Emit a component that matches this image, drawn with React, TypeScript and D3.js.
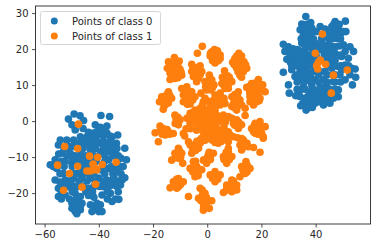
import React from "react";
import * as d3 from "d3";

const xTicks = [-60, -40, -20, 0, 20, 40];
const yTicks = [-20, -10, 0, 10, 20, 30];
const seriesNames = ["Points of class 0", "Points of class 1"];
const seriesColors = ["#1f77b4", "#ff7f0e"];

type P = [number, number];

const class0Left: P[] = [
  [-49.3,2.1],[-47.1,1.6],[-51.4,.7],[-45.8,.3],[-50.1,-.9],[-46,-1.9],[-48.9,-2.3],[-39.4,1.7],[-36.2,1.4],[-41.5,-.9],[-39.6,-1.6],[-37.2,-1.2],[-40.9,-2.8],[-37.8,-2.8],[-33.2,-3.7],[-43.3,-4.2],[-35.3,-4.2],
  [-54.4,-5.1],[-52,-5.1],[-49.5,-5.1],[-47,-4.2],[-44.6,-4.2],[-42.1,-3.2],[-39.6,-3.2],[-37.2,-3.2],[-33.7,-6],[-30.6,-7.4],
  [-55.1,-6.5],[-50.1,-6.9],[-45.2,-6.5],[-42.7,-6],[-40.2,-6],[-37.8,-6],[-35.3,-6.9],
  [-53.8,-8.8],[-50.7,-8.8],[-47,-8.8],[-43.3,-7.9],[-39.6,-8.3],[-36.5,-8.3],[-34.1,-8.8],[-32,-10.2],[-30,-10.6],
  [-56.3,-10.6],[-58.1,-12],[-55.7,-13],[-52.6,-11.1],[-50.1,-11.6],[-45.8,-11.1],[-36.5,-10.6],[-34.1,-13],[-31.2,-12.5],
  [-56.3,-16.2],[-53.2,-14.4],[-48.3,-14.4],[-45.8,-13.4],[-39.6,-13.4],[-36.5,-13],[-30.6,-15.6],[-33.5,-13.9],
  [-52.6,-16.2],[-49.5,-15.7],[-46.4,-15.7],[-43.3,-15.7],[-40.2,-15.7],[-37.2,-16.2],[-34.7,-15.3],[-31.6,-16.2],
  [-55.1,-18.5],[-51.4,-18.1],[-48.3,-18.1],[-44,-18.5],[-38.4,-18.1],[-35.3,-17.6],[-32.2,-17.6],
  [-55.1,-20.8],[-52.6,-20.4],[-48.9,-19.9],[-47,-20.8],[-39,-20.4],[-35.9,-19.9],[-32.8,-21.6],[-35.3,-22.2],
  [-50.1,-22.7],[-48.3,-23.1],[-46.4,-22.7],[-48.9,-25],[-47,-24.5],[-50.1,-24.1],[-48.3,-25.6],[-43.3,-23.1],[-40.9,-22.7],[-39.6,-23.1],[-42.7,-25],[-40.2,-25],[-41.5,-23.6],[-39,-25],
];

const class0LeftFill: P[] = [
  [-41,-4],[-38.5,-4],[-36,-4],
  [-46,-5.5],[-43,-5.5],[-41,-5.5],[-38.5,-5.5],[-36,-5.5],
  [-53,-7.5],[-51.5,-7.5],[-46,-7.5],[-41.5,-7.5],[-38.5,-7.5],[-36,-7.5],[-33.5,-7.5],
  [-52,-9.5],[-49,-9.5],[-45,-9.5],[-42,-9.5],[-38,-9.5],[-35,-9.5],[-33,-9.5],
  [-54,-11],[-48,-11],[-43.5,-11],[-41,-11],[-38,-11],[-33.5,-11],
  [-57,-12.5],[-53,-12.5],[-50,-12.5],[-47,-12.5],[-43,-12.5],[-38.5,-12.5],[-35.5,-12.5],[-32.5,-12.5],
  [-54.5,-14.5],[-49.5,-14.5],[-46,-14.5],[-42,-14.5],[-38,-14.5],[-35,-14.5],[-32,-14.5],
  [-50.5,-16.5],[-47.5,-16.5],[-44.5,-16.5],[-41.5,-16.5],[-38.5,-16.5],[-35.5,-16.5],[-33,-16.5],
  [-53,-18],[-49.5,-18],[-46,-18],[-42,-18],[-40,-18],[-36.5,-18],[-33.5,-18],
  [-54,-19.5],[-50,-19.5],[-45,-19.5],[-42.5,-19.5],[-37,-19.5],[-33,-19.5],
  [-54,-21.5],[-51,-21.5],[-48.5,-21.5],[-37,-21.5],[-34,-21.5],
  [-49,-23.5],[-47,-23.5],[-42,-24],[-40.5,-24],
  [-44,-3],[-44,-6],[-48,-6],[-52,-6.5],[-47,-10],[-50,-10.5],[-55,-9],[-45,-12.5],[-44,-14.5],[-47,-14.5],[-51,-16.5],[-54.5,-16.8],[-44,-20.5],[-42,-21],
];

const class0Right: P[] = [
  [36.2,29.2],[34.7,27.1],[38,27.5],[34.1,25.5],[35.9,26],[38.4,26],[35.3,24.1],[37.8,24.1],[41.5,26.4],[43.3,25.7],[40.2,25],[47,27.8],[50.8,27.9],[45.8,26.4],[48.2,26.4],[51,25],[46.4,24.5],[49.1,24.5],[44.5,23.1],[47.6,23.1],
  [27.9,21.5],[29.8,20.8],[28.5,19.5],[30.4,18.5],[29.2,17.3],[31.6,18.1],[32.2,16.2],[27.9,13.7],[31,14.4],[29.8,10.2],[30.1,7.9],[32.5,7.2],[34.3,4.4],[36.3,3.2],[38.6,3.9],[42.7,4.6],
  [34.7,21.8],[37.1,22.2],[39.6,21.8],[42.1,21.8],[44.5,21.3],[47,20.8],[33.5,19.9],[35.9,19.9],[38.4,20.4],[42.1,19.9],[44.5,19.5],[47,19],[34.1,18.1],[36.5,18.1],[38.4,17.6],[44.5,17.6],[47,17.1],[33.5,16.2],[35.9,16.2],[38.4,15.7],[43.3,13.9],[45.8,14.8],[48.2,15.3],[34.1,14.4],[36.5,14.4],[39,13.9],[41.5,13.9],[32.2,12.5],[34.7,12],[37.1,12],[39.6,11.6],[42.7,11.6],[48.8,13],[46.4,11.1],[35.3,9.7],[38.4,10.2],[41.5,9.7],[43.9,10.2],[34.1,8.8],[37.8,8.3],[40.8,7.9],[43.3,8.3],[48.2,8.8],[35.9,6.5],[38.4,6.5],[41.5,6.9],[46.4,6.5],[48.2,6.9],[37.1,5.1],[39.6,5.1],[45.1,5.1],
  [50.1,21.3],[52.5,20.8],[50.7,19.5],[53.8,19.5],[49.4,18.1],[51.9,17.6],[50.7,15.7],[53.1,14.8],[49.4,14.4],[54.4,14.6],[52.5,13],[54.6,12.3],[50.7,11.6],[53.4,10.2],[47,13],
];

const class0RightFill: P[] = [
  [36.5,25],[39,25],[44.5,25],[47.5,25],[50,25],
  [36.5,27],[46.5,27],[48.5,27],
  [34.5,23],[36.5,23],[39,23],[42,23],[46,23],[49,23],
  [36,21],[38,21],[40.5,21],[43,21],[45.5,21],[48.5,21],
  [33,20],[40,20],[46,20],
  [32.5,18.5],[35,18.5],[37.5,18.5],[40,18.5],[43,18.5],[45.5,18.5],[49,18.5],
  [31,17],[33,17],[35,17],[37,17],[39,17],[44,17],[46,17],
  [31,15.5],[33,15.5],[35,15.5],[37,15.5],[45,15.5],[47,15.5],[49,15.5],[52,15.5],
  [33,13],[35.5,13],[38,13],[41,13],[44,13],[46,13],
  [33,11],[35.5,11],[38,11],[41,11],[44,11],[47,11],[49,11],
  [33,9],[36,9],[39,9],[42,9],[45,9],[47,9],
  [34,7],[37,7],[39.5,7],[43,7],[45,7],[47,7],
  [35,5],[38,5],[41,5.5],
  [30.5,20],[31.5,20.2],[32,19],[30.5,16.5],[42,6],[44,6],[37,3.8],
];

const class1Left: P[] = [
  [-47.7,-.7],[-52.8,-6.9],[-48,-7.5],[-55.4,-12.1],[-48,-12.4],[-51,-14.4],[-43.6,-9.6],[-40.6,-9.9],[-38.9,-11.9],[-33.8,-11.3],[-42.3,-11.8],[-41.5,-13],[-43.3,-13.7],[-44.6,-13.7],[-40.9,-13.4],[-42.1,-13.4],[-46.4,-18.2],[-41.4,-17.4],[-53.2,-19.1],
];

const class1Right: P[] = [
  [42.3,24.3],[39.7,19],[41.5,17.1],[40.8,16.4],[43.5,15.9],[40.2,15.5],[40.6,14.6],[46.4,12.9],[51.5,14.3],[45.6,7.9],
];

const class1Center: P[] = [
  [-2,20.9],[-3.8,19],
  [1.5,19.4],[3.6,19.7],[4.6,18.5],[3.9,16.9],[1.8,16.9],[.9,18.2],[2.7,18.2],
  [10.7,18.2],[12.5,18.2],[9.2,16.5],[11.3,16.6],[13.4,16.6],[14.4,14.8],[10.7,14.8],[12.5,14.8],[11.9,12.9],[13.2,13.9],
  [-12.3,17.8],[-14.5,16.6],[-10.5,16.8],[-12.1,16.2],[-14.9,14.8],[-12.7,14.5],[-10.2,14.5],[-13.9,13.4],[-11.4,12.9],[-9.6,12.9],[-13.9,11.7],[-12.1,12],
  [-5.9,15.9],[-2.8,15.5],[-5.9,13.9],[-3.8,13.9],[-2.2,13.9],[-5.3,12.5],[-3.4,12],[-4.1,11.1],
  [.6,12.9],[-1,11.1],[1.5,11.6],[.2,10.2],[2.3,10.2],[-.4,8.8],[1.1,8.8],
  [6.2,14.1],[5.4,12.3],[8,12.3],[5.2,10.6],[7,10.6],[8.9,11.1],[6.4,9.2],[7.6,9.2],
  [18.7,11.7],[14.4,9.5],[16.2,10.6],[18.1,9.7],[20.3,10.2],[21.2,8.3],[16.2,8.8],[18.7,8.3],[15.6,6.9],[17.5,6.9],[19.3,6.5],[16.9,4.6],[18.1,5.5],[15.6,5.5],
  [-14.5,8.3],[-17,6.9],[-13.3,6.5],[-15.1,6],[-17.8,5.5],[-15.7,4.6],[-16.4,3.4],
  [-9.6,9.2],[-7.7,9.7],[-5.9,8.3],[-9,7.4],[-7.1,6.9],[-4.7,6.9],[-9,5.5],[-6.5,4.9],[-7.7,5.5],
  [2.7,7.4],[4.6,7.9],[5.8,5.9],[3.9,5.5],[2.1,5.9],[6.4,5],[4.6,4.6],
  [11.3,8.3],[8.9,6.9],[11.9,6],[10.1,5],[12.5,4.6],[8.9,4.2],[10.7,3.2],[13.8,3.7],[13.8,1.7],
  [-2.5,7.9],[-1.6,5.5],[.9,4.6],[-2.8,3.7],[-.4,3.2],[2.7,3.2],[-4.7,3.2],[-1,1.8],[1.5,1.4],[3.3,1.8],[-6.5,2.3],[-7.7,.9],[-5.3,0],[-3.4,.9],[-1,0],[1.5,-.9],[-4.1,-2.3],
  [-11.7,.9],[-12.1,1.8],[-10.2,.5],[-10.8,-.9],
  [5.8,1.8],[4.6,.9],[7.6,1.4],[5.8,0],
  [10.7,.5],[9.5,-.5],[12.5,-.9],[11.3,-1.9],[8.9,.9],
  [18.1,-1.4],[16.2,-1.9],[19.3,0],[21.2,-1.4],[17.5,-3.2],[19.9,-3.2],[20.5,-4.2],
  [-17.6,-1.2],[-19.4,-3.1],[-16.4,-1.9],[-14.5,-2.8],[-12.7,-3.3],[-15.7,-3.7],[-18.2,-5.6],
  [-11.4,-.5],[-6.5,-.5],[-9,-3.3],[-4.1,-2.3],[-1.6,-.9],[1.5,-.5],[10.7,-.9],[16.9,-2.8],[20.5,-4.6],[19.3,-8.5],
  [-1.6,-4.2],[1.5,-2.8],[3.9,-3.7],[7,-3.3],[9.5,-4.2],[12.5,-4.7],[-2.8,-5.1],
  [-.4,-3.7],[-2.2,-4.6],[2.1,-3.3],[4.6,-2.3],[1.5,-5.1],[3.9,-6],[7.6,-2.8],[5.8,-4.2],[7.6,-5.6],[-7.1,-5.6],[-5.3,-6.5],[-3.4,-7.4],[-5.9,-8.8],[-2.8,-6],
  [-10.8,-7.4],[-12.1,-8.8],[-9.6,-8.8],[-13.3,-10.7],[-10.8,-10.2],[-9.2,-11.6],
  [.2,-9.3],[-1.6,-10.7],[2.1,-8.8],[-.4,-11.6],
  [7.6,-8.4],[5.8,-9.7],[8.9,-9.7],[7,-11.6],[7.6,-7.4],
  [13.2,-5.1],[11.9,-6.5],[15,-7],[12.5,-7.9],[16.9,-7.2],
  [-5.3,-11.1],[-6.5,-13],[-4.1,-13.9],[-2.2,-13.4],[-4.7,-15.3],
  [2.7,-13.9],[.9,-14.8],[4.6,-14.8],[2.7,-16.7],
  [14.1,-11.1],[12.5,-12.5],[15.6,-13],[13.8,-14.4],[11.9,-15.3],
  [-10.8,-15.8],[-12.7,-16.7],[-9,-16.7],[-10.8,-18.1],[-13.9,-18.4],[-11.4,-18.5],
  [-7.1,-20.8],
  [8.9,-16.2],[7,-17.6],[10.7,-17.6],[5.8,-19.7],[8.9,-19.5],[10.7,-19],
  [-2.8,-18.5],[-1,-19.9],[-3.4,-21.3],[-1.6,-22.2],[1.5,-22],[-1.6,-24.6],[.6,-24.1],
];

const class1CenterFill: P[] = [
  [2.5,20],[1,19],[4.6,17.5],[2.7,16.3],[3,17.5],[1.5,18],
  [11.5,19],[10,17.5],[12,17.5],[12,16],[14,15.8],[9.8,15.8],[11.5,15],[13.2,15],[11.2,13.8],[12.5,12.3],
  [-13.5,16],[-11,15.5],[-13.5,15],[-11.5,13.7],[-12.8,12.7],[-11,12.2],[-9.8,13.7],
  [-5,15],[-4,15],[-3,14.8],[-5,13.2],[-4,12.7],[-2.8,13],[-5.5,14.7],
  [.6,11.5],[-.2,11],[1,10],[-.8,9.7],[.5,9.3],[1.8,9.5],
  [6.4,12.5],[6.8,11.5],[6,10],[7.5,10],[8,11],[6,11.5],[7.3,12.7],
  [17.5,10.7],[15.5,9.8],[17,9.7],[19.5,9.3],[15.5,8],[17.5,8.5],[20,8.5],[17,7.7],[18.5,7.3],[16.5,6],[19,5.8],
  [-16,7],[-15,7.5],[-14,7.3],[-16.5,5.8],[-14.5,5.2],[-16.2,4.8],
  [-8.5,8.6],[-7,8.5],[-6,7.5],[-8,7.3],[-5.5,6],[-8,6.2],[-6.5,6],[-7.5,4.8],
  [3.7,7.2],[3,6.5],[4.7,6.7],[5,5],[3.5,4.7],[6,6.5],
  [10,7.5],[11,7],[9.8,6],[10.5,4.5],[11.8,5],[9.5,5],[10,3.8],
  [-1,6.5],[-.2,5.8],[.8,5.5],[-2,4.5],[-3.5,3],[-1.5,3],[.5,3],[2,2],[-5.5,2.5],[-4.5,1.5],[-3,2],[-.5,1],[-2,.8],[.5,.5],[2.5,.5],[-6.5,1],[-6,-.5],[-4,-.5],[-2.5,-1],[0,-1],[0,-2.5],[-2,-2.5],[3,-1],[2.5,-2],[-6.5,-2],[4,-3],[5.5,-3],[6,-1.5],
  [-1,-3],[.5,-4.5],[-1,-5.2],[3,-4.5],[2.7,-5.8],[5,-5.5],[6.5,-4.5],[6.7,-3.5],[8.3,-3.7],[11,-4.5],
  [-11,1.2],[-11.5,0],[-12,-.5],
  [5.5,1],[6.8,.8],[6.5,-.2],[5,.1],
  [10,.2],[11,-.7],[10,-1],[11.5,-.2],
  [18,-2.5],[19,-1.5],[17.2,-1],[18.5,-3.5],[20,-1.5],[17.5,-.5],
  [-16,-3],[-15,-2.2],[-17.5,-2.5],[-16.8,-3.5],[-14,-3.5],
  [-8,-2],[-8.5,-4],
  [-5.5,-7.5],[-4.5,-8],[-6.5,-6.5],[-4.2,-6.5],[-4,-5.5],
  [-11,-8.5],[-11,-9.5],[-12,-10],[-10,-10],[-10.5,-8],
  [0,-10],[1,-9.5],[-.8,-10.5],[1,-10.5],[.5,-8.5],
  [6.8,-8.5],[7,-9.5],[7,-10.5],[6,-10.5],[8,-10.5],
  [13,-6],[13.5,-7],[14.5,-6],[12.5,-5.5],
  [-5,-12],[-4,-12.5],[-4.5,-11],[-5.5,-14],[-3.5,-15],
  [2.5,-15],[3,-15],[1.8,-15.8],[3.7,-16],
  [13.5,-12.5],[14.5,-12],[13,-13.5],[14.5,-14],
  [-11,-17],[-10,-17.5],[-12,-17.5],[-11.5,-16],
  [8.5,-17.5],[9,-18.5],[7.5,-19],[9.5,-16.5],[7,-18.5],
  [-2,-19],[-2,-20.5],[-.5,-21],[-2.5,-22],[-.5,-22.5],[-1.5,-23.5],
];

const class0 = [...class0Left, ...class0LeftFill, ...class0Right, ...class0RightFill];
const class1 = [...class1Center, ...class1CenterFill, ...class1Left, ...class1Right];

const W = 377, H = 248;
const L = 35.5, R = 370.5, T = 6, B = 224;
const x = d3.scaleLinear().domain([-63.55, 60.07]).range([L, R]);
const y = d3.scaleLinear().domain([-28.44, 32.11]).range([B, T]);
const font = "'DejaVu Sans', sans-serif";
const ink = "#262626";
const r = 3.8;

export default function App() {
  return (
    <svg width={W} height={H} viewBox={`0 0 ${W} ${H}`} style={{ position: "absolute", left: 0, top: 0, background: "#fff" }} fontFamily={font} fontSize={10}>
      <g fill={seriesColors[0]}>
        {class0.map((p, i) => <circle key={i} cx={x(p[0])} cy={y(p[1])} r={r} />)}
      </g>
      <g fill={seriesColors[1]}>
        {class1.map((p, i) => <circle key={i} cx={x(p[0])} cy={y(p[1])} r={r} />)}
      </g>
      <rect x={L} y={T} width={R - L} height={B - T} fill="none" stroke={ink} strokeWidth={0.9} />
      {xTicks.map(t => (
        <g key={t} transform={`translate(${x(t)},${B})`}>
          <line y2={3.5} stroke={ink} strokeWidth={0.8} />
          <text y={14} textAnchor="middle" fill={ink}>{t < 0 ? `\u2212${-t}` : t}</text>
        </g>
      ))}
      {yTicks.map(t => (
        <g key={t} transform={`translate(${L},${y(t)})`}>
          <line x2={-3.5} stroke={ink} strokeWidth={0.8} />
          <text x={-7} y={3.6} textAnchor="end" fill={ink}>{t < 0 ? `\u2212${-t}` : t}</text>
        </g>
      ))}
      <rect x={40.5} y={11.5} width={120} height={33} rx={2} fill="#fff" fillOpacity={0.8} stroke="#ccc" strokeWidth={0.8} />
      {seriesNames.map((n, i) => (
        <g key={n} transform={`translate(0,${21 + i * 15})`}>
          <circle cx={54.3} r={3.5} fill={seriesColors[i]} />
          <text x={72} y={3.5} fill={ink}>{n}</text>
        </g>
      ))}
    </svg>
  );
}
